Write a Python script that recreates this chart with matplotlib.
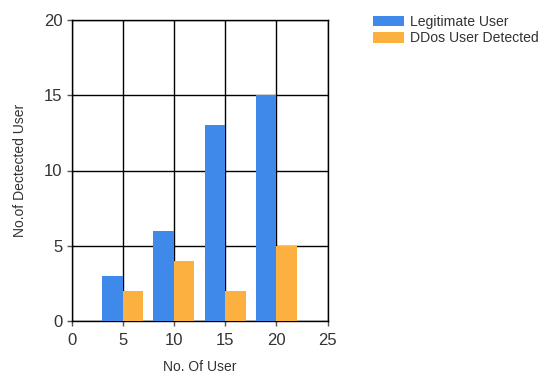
import matplotlib
matplotlib.use("Agg")
import matplotlib.pyplot as plt
import numpy as np

# Data
users = [5, 10, 15, 20]
legitimate = [3, 6, 13, 15]
ddos_detected = [2, 4, 2, 5]
series_names = ["Legitimate User", "DDos User Detected"]
x_ticks = [0, 5, 10, 15, 20, 25]
y_ticks = [0, 5, 10, 15, 20]

blue = "#3F89EA"
orange = "#FCB040"
text_color = "#333333"

plt.rcParams["font.family"] = ["Liberation Sans", "DejaVu Sans"]

fig = plt.figure(figsize=(5.43, 3.74), dpi=100)
ax = fig.add_axes([71.5 / 543, 1 - 321 / 374, (327.5 - 71.5) / 543, (321 - 20) / 374])

bw = 2.0
x = np.array(users, dtype=float)
ax.bar(x - bw / 2, legitimate, width=bw, color=blue, label=series_names[0], zorder=3)
ax.bar(x + bw / 2, ddos_detected, width=bw, color=orange, label=series_names[1], zorder=3)

ax.set_xlim(0, 25)
ax.set_ylim(0, 20)
ax.set_xticks(x_ticks)
ax.set_yticks(y_ticks)
ax.grid(True, color="black", linewidth=1.0, zorder=1)
for s in ax.spines.values():
    s.set_color("black")
    s.set_linewidth(1.0)
ax.tick_params(axis="both", direction="out", length=3.5, width=1, color="#555555",
               labelsize=12, labelcolor=text_color)
ax.tick_params(axis="x", pad=5)
ax.tick_params(axis="y", pad=3)

ax.set_xlabel("No. Of User", fontsize=10, color=text_color, labelpad=9)
ax.set_ylabel("No.of Dectected User", fontsize=10, color=text_color, labelpad=12)

fig.legend(loc="upper left", bbox_to_anchor=(373 / 543, 1 - 15 / 374),
           frameon=False, fontsize=10.1, handlelength=2.2, handleheight=0.8,
           handletextpad=0.45, labelspacing=0.15, borderaxespad=0, borderpad=0,
           labelcolor=text_color)

fig.savefig("out.png", dpi=100)
